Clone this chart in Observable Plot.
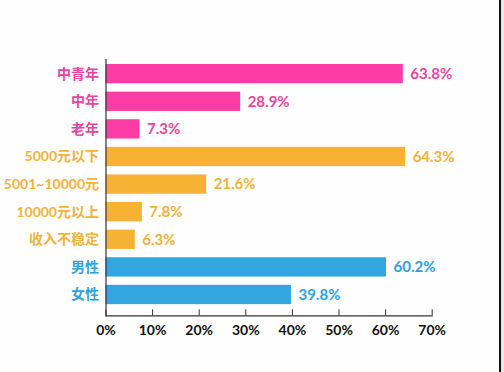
<!DOCTYPE html>
<html><head><meta charset="utf-8">
<script src="https://cdn.jsdelivr.net/npm/d3@7"></script>
<script src="https://cdn.jsdelivr.net/npm/@observablehq/plot@0.6"></script>
<style>
html,body{margin:0;padding:0;background:#fff;}
#wrap{position:relative;width:504px;height:372px;overflow:hidden;background:#fefefe;}
#edge{position:absolute;left:499px;top:0;width:2px;height:372px;background:#111;}
#gray{position:absolute;left:501px;top:0;width:3px;height:372px;background:#e6e6e6;}
</style></head>
<body><div id="wrap"><div id="edge"></div><div id="gray"></div></div>
<script>
const categories = ["中青年","中年","老年","5000元以下","5001~10000元","10000元以上","收入不稳定","男性","女性"];
const values = [63.8, 28.9, 7.3, 64.3, 21.6, 7.8, 6.3, 60.2, 39.8];
const groups = ["age","age","age","income","income","income","income","gender","gender"];
const xTicks = [0,10,20,30,40,50,60,70];
const barColors = {age:"#fd3ca6", income:"#f6b333", gender:"#31a6df"};
const textColors = {age:"#e7459f", income:"#f1b23c", gender:"#2fa2db"};

const data = categories.map((c,i)=>({cat:c, value:values[i], group:groups[i]}));
const catColor = Object.fromEntries(data.map(d=>[d.cat, textColors[d.group]]));
const font = "Lato, 'Noto Sans CJK SC', sans-serif";

const chart = Plot.plot({
  width: 504, height: 372,
  marginLeft: 105.5, marginRight: 72.3, marginTop: 59, marginBottom: 56.7,
  style: {fontFamily: font, background: "transparent"},
  x: {domain: [0,70]},
  y: {domain: categories, paddingInner: 0.30, paddingOuter: 0.293, align: 0.31, round: false},
  color: {type: "identity"},
  marks: [
    Plot.barX(data, {y: "cat", x: "value", fill: d => barColors[d.group]}),
    Plot.text(data, {y: "cat", x: "value", text: d => d.value.toFixed(1) + "%", dx: 7, textAnchor: "start",
      fill: d => textColors[d.group], fontSize: 15, fontWeight: "bold"}),
    Plot.frame({anchor: "left", stroke: "#333", strokeWidth: 1.2}),
    Plot.frame({anchor: "bottom", stroke: "#333", strokeWidth: 1.2}),
    Plot.axisX(xTicks, {tickSize: -6, tickPadding: 15, tickFormat: d => d + "%", fontSize: 14, fontWeight: "bold", fill: "#111", stroke: "#333", label: null}),
    Plot.axisY({tickSize: 0, tickPadding: 7, fontSize: 14, fontWeight: "bold", fill: d => catColor[d], label: null})
  ]
});
document.getElementById("wrap").prepend(chart);
</script>
</body></html>
